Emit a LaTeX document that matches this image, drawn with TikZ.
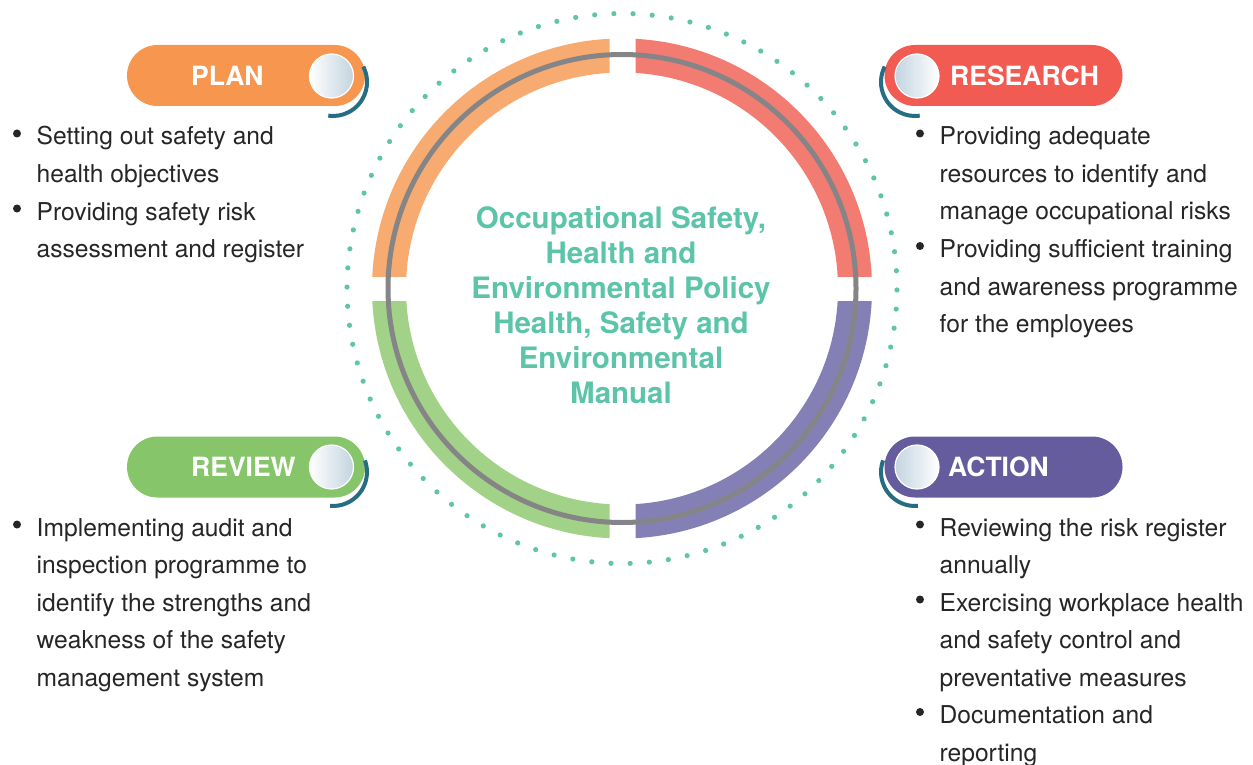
\documentclass[tikz,border=0pt]{standalone}
\usepackage{fontspec}
\setmainfont{TeX Gyre Heros}
\usepackage{tikz}
\definecolor{plancol}{HTML}{F6964F}
\definecolor{researchcol}{HTML}{F15B52}
\definecolor{reviewcol}{HTML}{86C56A}
\definecolor{actioncol}{HTML}{655C9D}
\definecolor{planband}{HTML}{F8AB70}
\definecolor{researchband}{HTML}{F27B72}
\definecolor{reviewband}{HTML}{A2D288}
\definecolor{actionband}{HTML}{8480B6}
\definecolor{ringgray}{HTML}{858587}
\definecolor{dotcol}{HTML}{5EC4AA}
\definecolor{policycol}{HTML}{5CC4A9}
\definecolor{arccol}{HTML}{266D84}
\definecolor{knobshade}{HTML}{C3D4DF}
\definecolor{bodytext}{HTML}{262626}
\newcommand{\bitem}[1]{\parbox[t]{330pt}{#1}}

\begin{document}
\begin{tikzpicture}[x=1pt, y=-1pt,
		pill/.style={rectangle, rounded corners=30.5pt, minimum width=238pt, minimum height=61pt, inner sep=0pt},
		pilltext/.style={anchor=west, inner sep=0pt, text=white, font=\fontsize{26.5}{30}\selectfont\bfseries},
		knobleft/.style={circle, minimum size=44pt, inner sep=0pt, draw=white, line width=1.2pt, left color=white, right color=knobshade},
		knobright/.style={circle, minimum size=44pt, inner sep=0pt, draw=white, line width=1.2pt, left color=knobshade, right color=white},
		knobarc/.style={draw=arccol, line width=4pt},
		itemtext/.style={anchor=base west, inner sep=0pt, text=bodytext, font=\fontsize{24.6}{37.5}\selectfont},
		bulletdot/.style={fill=bodytext}]
	\useasboundingbox (0,0) rectangle (1253,765);
	\def\cx{622}
	\def\cy{288.5}
	% dotted outer ring
	\foreach \a in {0,4,...,356}
		\fill[dotcol] (\cx,\cy) ++(\a+0.3:275) circle (2.6);
	% the four coloured bands
	\begin{scope}
		\clip (0,0) rectangle (609.5,276.5);
		\fill[planband, even odd rule] (\cx,\cy) circle (250) (\cx,\cy) circle (216);
	\end{scope}
	\begin{scope}
		\clip (635.5,0) rectangle (1253,276.5);
		\fill[researchband, even odd rule] (\cx,\cy) circle (250) (\cx,\cy) circle (216);
	\end{scope}
	\begin{scope}
		\clip (0,301.5) rectangle (609.5,765);
		\fill[reviewband, even odd rule] (\cx,\cy) circle (250) (\cx,\cy) circle (216);
	\end{scope}
	\begin{scope}
		\clip (635.5,301.5) rectangle (1253,765);
		\fill[actionband, even odd rule] (\cx,\cy) circle (250) (\cx,\cy) circle (216);
	\end{scope}
	\draw[ringgray, line width=5pt] (\cx,\cy) circle (234);
	% centre text
	\node[anchor=base, inner sep=0pt, text=policycol, font=\fontsize{29.5}{35}\selectfont\bfseries] (policy) at (621,228)
		{\parbox[t]{420pt}{\centering Occupational Safety,\\Health and\\Environmental Policy\\Health, Safety and\\Environmental\\Manual}};
	% pills
	\node[pill, fill=plancol] (planbox) at (246,75.5) {};
	\node[pill, fill=researchcol] (researchbox) at (1003.5,75.5) {};
	\node[pill, fill=reviewcol] (reviewbox) at (246,467) {};
	\node[pill, fill=actioncol] (actionbox) at (1003.5,467) {};
	\node[pilltext] (plantxt) at (191,75.5) {PLAN};
	\node[pilltext] (researchtxt) at (950,75.5) {RESEARCH};
	\node[pilltext] (reviewtxt) at (191,467) {REVIEW};
	\node[pilltext] (actiontxt) at (948,467) {ACTION};
	\draw[knobarc] (333,82) ++(-27:34) arc (-27:98:34);
	\draw[knobarc] (915,82) ++(-153:34) arc (-153:-278:34);
	\draw[knobarc] (333,472) ++(-20:34) arc (-20:95:34);
	\draw[knobarc] (915,472) ++(-160:34) arc (-160:-275:34);
	\node[knobleft] (planknob) at (331.5,76) {};
	\node[knobright] (researchknob) at (917,76) {};
	\node[knobleft] (reviewknob) at (331.5,467) {};
	\node[knobright] (actionknob) at (917,467) {};
	% bullet lists
	\node[itemtext] (plan1) at (36.5,145) {\bitem{Setting out safety and\\health objectives}};
	\node[itemtext] (plan2) at (36.5,220) {\bitem{Providing safety risk\\assessment and register}};
	\node[itemtext] (research1) at (939.5,145) {\bitem{Providing adequate\\resources to identify and\\manage occupational risks}};
	\node[itemtext] (research2) at (939.5,257.5) {\bitem{Providing sufficient training\\and awareness programme\\for the employees}};
	\node[itemtext] (review1) at (36.5,536) {\bitem{Implementing audit and\\inspection programme to\\identify the strengths and\\weakness of the safety\\management system}};
	\node[itemtext] (action1) at (939.5,536) {\bitem{Reviewing the risk register\\annually}};
	\node[itemtext] (action2) at (939.5,611) {\bitem{Exercising workplace health\\and safety control and\\preventative measures}};
	\node[itemtext] (action3) at (939.5,723.5) {\bitem{Documentation and\\reporting}};
	\foreach \n in {plan1,plan2,research1,research2,review1,action1,action2,action3}
		\fill[bulletdot] (\n.base west) ++(-19.5,-11.5) circle (4);
\end{tikzpicture}
\end{document}
